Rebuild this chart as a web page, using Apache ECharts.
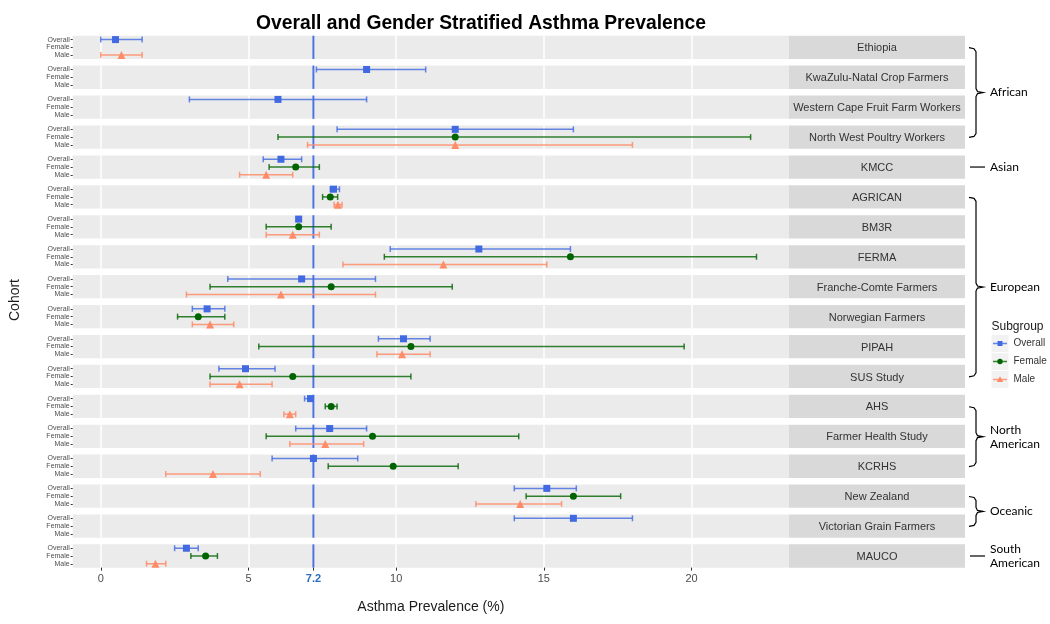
<!DOCTYPE html>
<html>
<head>
<meta charset="utf-8">
<script src="https://cdn.jsdelivr.net/npm/echarts@6/dist/echarts.min.js"></script>
<style>html,body{margin:0;padding:0;background:#fff}#chart{width:1050px;height:624px}</style>
</head>
<body>
<div id="chart"></div>
<script>
// ---------------- DATA ----------------
const cohorts = ['Ethiopia','KwaZulu-Natal Crop Farmers','Western Cape Fruit Farm Workers','North West Poultry Workers','KMCC','AGRICAN','BM3R','FERMA','Franche-Comte Farmers','Norwegian Farmers','PIPAH','SUS Study','AHS','Farmer Health Study','KCRHS','New Zealand','Victorian Grain Farmers','MAUCO'];
const subgroups = ['Overall','Female','Male'];

const overallEst  = [0.5, 9.0, 6.0, 12.0, 6.1, 7.88, 6.7, 12.8, 6.8, 3.6, 10.25, 4.9, 7.1, 7.75, 7.2, 15.1, 16.0, 2.9];
const overallLow  = [0.0, 7.3, 3.0, 8.0, 5.5, 7.77, 6.62, 9.8, 4.3, 3.1, 9.4, 4.0, 6.9, 6.6, 5.8, 14.0, 14.0, 2.5];
const overallHigh = [1.4, 11.0, 9.0, 16.0, 6.8, 8.08, 6.78, 15.9, 9.3, 4.2, 11.15, 5.9, 7.15, 9.0, 8.7, 16.1, 18.0, 3.3];

const femaleEst  = [null, null, null, 12.0, 6.6, 7.77, 6.7, 15.9, 7.8, 3.3, 10.5, 6.5, 7.8, 9.2, 9.9, 16.0, null, 3.55];
const femaleLow  = [null, null, null, 6.0, 5.7, 7.51, 5.6, 9.6, 3.7, 2.6, 5.35, 3.7, 7.6, 5.6, 7.7, 14.4, null, 3.05];
const femaleHigh = [null, null, null, 22.0, 7.4, 8.02, 7.8, 22.2, 11.9, 4.2, 19.75, 10.5, 8.0, 14.15, 12.1, 17.6, null, 3.95];

const maleEst  = [0.7, null, null, 12.0, 5.6, 8.03, 6.5, 11.6, 6.1, 3.7, 10.2, 4.7, 6.4, 7.6, 3.8, 14.2, null, 1.85];
const maleLow  = [0.0, null, null, 7.0, 4.7, 7.9, 5.6, 8.2, 2.9, 3.1, 9.35, 3.7, 6.2, 6.4, 2.2, 12.7, null, 1.55];
const maleHigh = [1.4, null, null, 18.0, 6.5, 8.17, 7.4, 15.1, 9.3, 4.5, 11.15, 5.8, 6.6, 8.9, 5.4, 15.6, null, 2.2];

const xTicks = [0, 5, 7.2, 10, 15, 20];
const referenceValue = 7.2;

const regionNames = [['African'], ['Asian'], ['European'], ['North', 'American'], ['Oceanic'], ['South', 'American']];
const regionFirst = [0, 4, 5, 12, 15, 17];
const regionLast  = [3, 4, 11, 14, 16, 17];

// ---------------- LAYOUT / STYLE ----------------
const FONT = '"Liberation Sans", Arial, sans-serif';
const panelTop0 = 35.7, panelStep = 29.92, panelH = 23.3;
const panelLeft = 72.7, panelRight = 789, stripW = 176;
const colors = { Overall: '#4169E1', Female: '#006400', Male: '#FF8C69' };
const barColors = ['rgba(65,105,225,0.8)', 'rgba(0,100,0,0.8)', 'rgba(255,140,105,0.85)'];
const refColor = '#4C72E0';
const symbols = { Overall: 'rect', Female: 'circle', Male: 'triangle' };
const symbolSizes = { Overall: 7, Female: 7, Male: 8 };

const est = { Overall: overallEst, Female: femaleEst, Male: maleEst };
const low = { Overall: overallLow, Female: femaleLow, Male: maleLow };
const high = { Overall: overallHigh, Female: femaleHigh, Male: maleHigh };

const n = cohorts.length;
const last = n - 1;
const grids = [], xAxes = [], yAxes = [], series = [], graphics = [];

function renderErr(params, api) {
  const g = api.value(2);
  const a = api.coord([api.value(0), g]);
  const b = api.coord([api.value(1), g]);
  const st = { stroke: barColors[g] || '#333', lineWidth: 1.5 };
  const c = 3;
  return {
    type: 'group',
    children: [
      { type: 'line', shape: { x1: a[0], y1: a[1], x2: b[0], y2: b[1] }, style: st },
      { type: 'line', shape: { x1: a[0], y1: a[1] - c, x2: a[0], y2: a[1] + c }, style: st },
      { type: 'line', shape: { x1: b[0], y1: b[1] - c, x2: b[0], y2: b[1] + c }, style: st }
    ]
  };
}

function renderRef(params, api) {
  const cs = params.coordSys;
  const p = api.coord([api.value(0), 0]);
  return { type: 'line', shape: { x1: p[0], y1: cs.y, x2: p[0], y2: cs.y + cs.height },
    style: { stroke: refColor, lineWidth: 2 } };
}

for (let i = 0; i < n; i++) {
  const top = panelTop0 + i * panelStep;
  grids.push({ left: panelLeft, top: top, width: panelRight - panelLeft, height: panelH,
    show: true, backgroundColor: '#EBEBEB', borderWidth: 0 });
  xAxes.push({
    type: 'value', gridIndex: i, min: -0.95, max: 23.3,
    axisLine: { show: false, onZero: false },
    axisTick: { show: i === last, customValues: xTicks, length: 3, lineStyle: { color: '#333' } },
    axisLabel: {
      show: i === last, customValues: xTicks, margin: 6, fontSize: 11, color: '#4D4D4D', fontFamily: FONT,
      formatter: v => (Math.abs(v - referenceValue) < 1e-9 ? '{ref|' + v + '}' : String(v)),
      rich: { ref: { color: '#2A6EBB', fontWeight: 'bold', fontSize: 11, fontFamily: FONT } }
    },
    splitLine: { show: true, lineStyle: { color: '#FFFFFF', width: 1.5 } },
    name: i === last ? 'Asthma Prevalence (%)' : '',
    nameLocation: 'middle', nameGap: 33,
    nameTextStyle: { fontSize: 14, color: '#1A1A1A', fontFamily: FONT }
  });
  yAxes.push({
    type: 'category', gridIndex: i, data: subgroups, inverse: true,
    axisLine: { show: false, onZero: false },
    axisTick: { show: true, alignWithLabel: true, interval: 0, length: 2, lineStyle: { color: '#333' } },
    axisLabel: { interval: 0, fontSize: 7, color: '#4D4D4D', margin: 3, fontFamily: FONT },
    splitLine: { show: false }
  });

  // reference line at 7.2
  series.push({
    type: 'custom', xAxisIndex: i, yAxisIndex: i, silent: true,
    encode: { x: 0, y: 1 }, renderItem: renderRef, data: [[referenceValue, 0]], z: 1
  });

  const errData = [];
  subgroups.forEach((s, k) => {
    if (low[s][i] != null && high[s][i] != null) errData.push([low[s][i], high[s][i], k]);
  });
  if (errData.length) {
    series.push({
      type: 'custom', xAxisIndex: i, yAxisIndex: i, silent: true,
      encode: { x: [0, 1], y: 2 },
      renderItem: renderErr, data: errData, z: 2
    });
  }
  subgroups.forEach((s, k) => {
    if (est[s][i] == null) return;
    series.push({
      type: 'scatter', name: s, xAxisIndex: i, yAxisIndex: i, silent: true,
      symbol: symbols[s], symbolSize: symbolSizes[s],
      itemStyle: { color: colors[s], opacity: 1 },
      data: [[est[s][i], k]], z: 3
    });
  });

  // strip label
  graphics.push({ type: 'rect', shape: { x: panelRight, y: top, width: stripW, height: panelH },
    style: { fill: '#D9D9D9' }, silent: true });
  graphics.push({ type: 'text', x: panelRight + stripW / 2, y: top + panelH / 2 + 1,
    style: { text: cohorts[i], fontSize: 11, fill: '#333333', fontFamily: FONT, align: 'center', verticalAlign: 'middle' } });
}

// region brackets
const bx0 = 969, bx1 = 976, bx2 = 983;
regionNames.forEach((lines, r) => {
  let mid;
  if (regionFirst[r] === regionLast[r]) {
    mid = panelTop0 + regionFirst[r] * panelStep + panelH / 2;
    graphics.push({ type: 'line', shape: { x1: 970, y1: mid, x2: 985, y2: mid }, style: { stroke: '#000', lineWidth: 1.2 } });
  } else {
    const tt = panelTop0 + regionFirst[r] * panelStep + 12;
    const bb = panelTop0 + regionLast[r] * panelStep + 12;
    mid = (tt + bb) / 2;
    const pts = [[bx0, tt], [bx1 - 2, tt + 1], [bx1, tt + 4], [bx1, mid - 4], [bx1 + 1.5, mid - 1], [bx2, mid],
                 [bx1 + 1.5, mid + 1], [bx1, mid + 4], [bx1, bb - 4], [bx1 - 2, bb - 1], [bx0, bb]];
    graphics.push({ type: 'polyline', shape: { points: pts }, style: { stroke: '#000', lineWidth: 1.2, fill: null } });
  }
  graphics.push({ type: 'text', x: 990, y: mid,
    style: { text: lines.join('\n'), fontSize: 12, lineHeight: 14, fill: '#000', fontFamily: 'Lato, "Liberation Sans", sans-serif', align: 'left', verticalAlign: 'middle' } });
});

// y axis title
graphics.push({ type: 'text', x: 15, y: 300, rotation: Math.PI / 2,
  style: { text: 'Cohort', fontSize: 14, fill: '#1A1A1A', fontFamily: FONT, align: 'center', verticalAlign: 'middle' } });

// legend title + key overlays
graphics.push({ type: 'text', x: 991.5, y: 327,
  style: { text: 'Subgroup', fontSize: 12, fill: '#1A1A1A', fontFamily: FONT, align: 'left', verticalAlign: 'middle' } });
const legTop = 335, legStep = 18;
subgroups.forEach((s, k) => {
  const cy = legTop + k * legStep + 8.5, cx = 991.5 + 8.5;
  graphics.push({ type: 'line', z: 100, shape: { x1: cx - 7, y1: cy, x2: cx + 7, y2: cy }, style: { stroke: barColors[k], lineWidth: 1.5 } });
  if (s === 'Overall') graphics.push({ type: 'rect', z: 101, shape: { x: cx - 2.5, y: cy - 2.5, width: 5, height: 5 }, style: { fill: colors[s] } });
  if (s === 'Female') graphics.push({ type: 'circle', z: 101, shape: { cx: cx, cy: cy, r: 2.7 }, style: { fill: colors[s] } });
  if (s === 'Male') graphics.push({ type: 'polygon', z: 101, shape: { points: [[cx, cy - 3.3], [cx + 3.3, cy + 2.5], [cx - 3.3, cy + 2.5]] }, style: { fill: colors[s] } });
});

const chart = echarts.init(document.getElementById('chart'), null, { renderer: 'canvas' });
chart.setOption({
  animation: false,
  backgroundColor: '#FFFFFF',
  title: { text: 'Overall and Gender Stratified Asthma Prevalence', left: 251, top: 9,
    textStyle: { fontSize: 19.3, fontWeight: 'bold', color: '#000', fontFamily: FONT } },
  legend: {
    orient: 'vertical', left: 991.5, top: legTop, itemWidth: 17, itemHeight: 17, itemGap: 1, padding: 0,
    selectedMode: false, icon: 'rect',
    data: subgroups.map(s => ({ name: s, icon: 'rect', itemStyle: { color: '#F2F2F2', borderWidth: 0 } })),
    textStyle: { fontSize: 10, color: '#333', fontFamily: FONT }
  },
  grid: grids, xAxis: xAxes, yAxis: yAxes, series: series,
  graphic: { elements: graphics }
});
</script>
</body>
</html>
